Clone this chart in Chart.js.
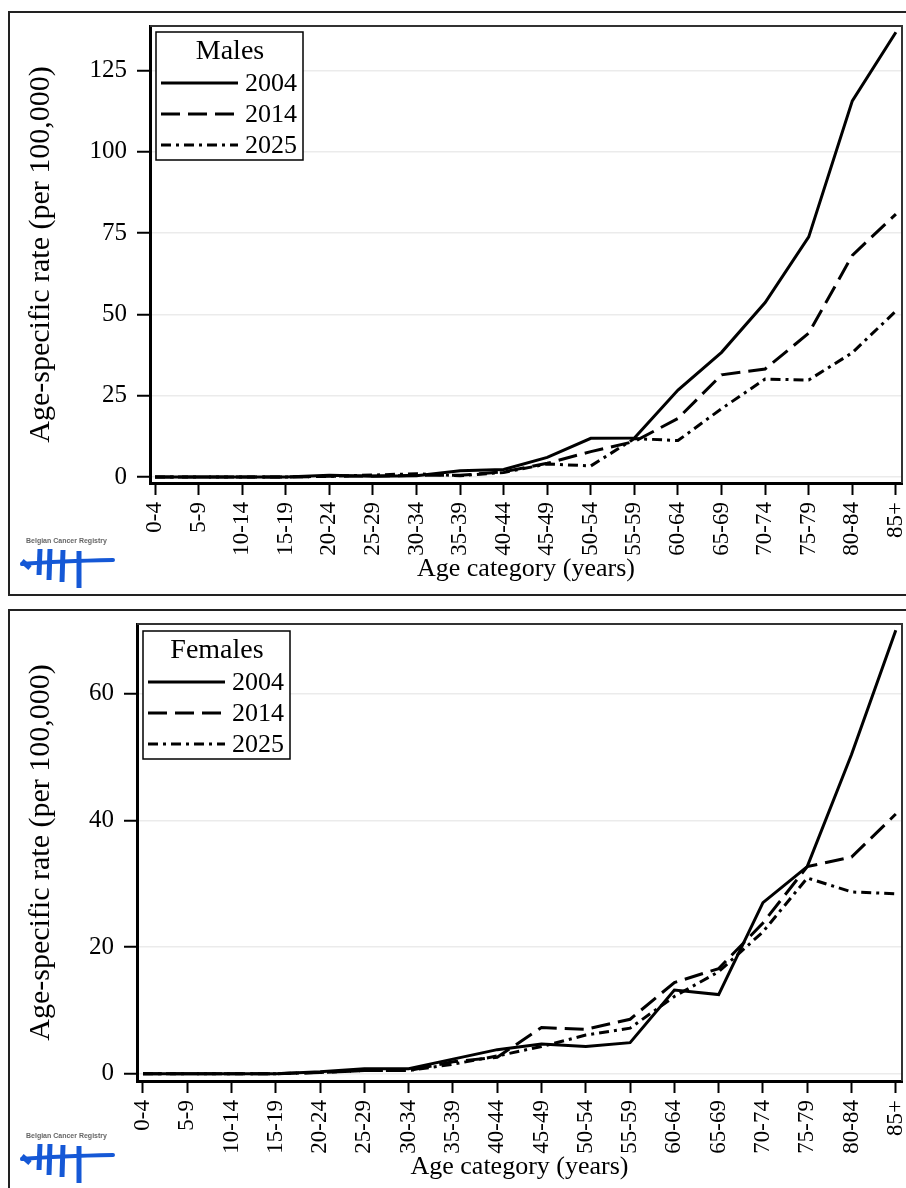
<!DOCTYPE html>
<html>
<head>
<meta charset="utf-8">
<script src="https://cdn.jsdelivr.net/npm/chart.js@4.4.0/dist/chart.umd.min.js"></script>
<style>
  html, body { margin: 0; padding: 0; background: #fff; }
  body { width: 906px; height: 1188px; position: relative; overflow: hidden; }
  .panel { position: absolute; left: 8px; width: 910px; border: 2px solid #222; box-sizing: border-box; }
  #p1 { top: 11px; height: 585px; }
  #p2 { top: 609px; height: 600px; }
  canvas { position: absolute; left: 0; }
  #c1 { top: 0; }
  #c2 { top: 600px; }
  .logo { position: absolute; left: 20px; }
</style>
</head>
<body>
<div class="panel" id="p1"></div>
<div class="panel" id="p2"></div>
<canvas id="c1" width="906" height="600"></canvas>
<canvas id="c2" width="906" height="588"></canvas>

<svg class="logo" style="top:535px" width="100" height="56">
  <text x="6" y="8" font-family="Liberation Sans" font-size="7" font-weight="bold" fill="#666">Belgian Cancer Registry</text>
  <path d="M2 29 Q40 26 93 25" stroke="#1558d6" stroke-width="4" fill="none" stroke-linecap="round"/>
  <path d="M2 26 L10 33" stroke="#1558d6" stroke-width="5"/>
  <path d="M20 14 L19 40" stroke="#1558d6" stroke-width="5"/>
  <path d="M30 14 L29 45" stroke="#1558d6" stroke-width="5"/>
  <path d="M43 15 L42 47" stroke="#1558d6" stroke-width="5"/>
  <path d="M59 16 L59 53" stroke="#1558d6" stroke-width="5"/>
</svg>
<svg class="logo" style="top:1130px" width="100" height="56">
  <text x="6" y="8" font-family="Liberation Sans" font-size="7" font-weight="bold" fill="#666">Belgian Cancer Registry</text>
  <path d="M2 29 Q40 26 93 25" stroke="#1558d6" stroke-width="4" fill="none" stroke-linecap="round"/>
  <path d="M2 26 L10 33" stroke="#1558d6" stroke-width="5"/>
  <path d="M20 14 L19 40" stroke="#1558d6" stroke-width="5"/>
  <path d="M30 14 L29 45" stroke="#1558d6" stroke-width="5"/>
  <path d="M43 15 L42 47" stroke="#1558d6" stroke-width="5"/>
  <path d="M59 16 L59 53" stroke="#1558d6" stroke-width="5"/>
</svg>

<script>
// data
const categories = ['0-4','5-9','10-14','15-19','20-24','25-29','30-34','35-39','40-44',
                    '45-49','50-54','55-59','60-64','65-69','70-74','75-79','80-84','85+'];
const years = ['2004', '2014', '2025'];

const males2004 = [0,0,0,0,0.5,0.2,0.4,1.9,2.3,6.0,11.9,12.0,26.7,38.3,53.6,73.8,115.6,136.7];
const males2014 = [0,0,0,0,0.2,0.3,0.5,0.5,1.6,4.2,7.8,10.9,18.0,31.4,33.2,44.2,68.1,80.8];
const males2025 = [0,0,0,0,0.2,0.6,1.0,0.4,1.4,4.0,3.4,11.8,11.2,21.0,30.1,29.8,38.2,51.0];

const females2004 = [0,0,0,0,0.3,0.8,0.8,2.3,3.8,4.7,4.3,4.9,13.2,12.5,27.0,32.7,50.4,70.0];
const females2014 = [0,0,0,0,0.2,0.5,0.5,1.9,2.6,7.3,7.0,8.6,14.4,16.6,23.8,32.7,34.2,41.0];
const females2025 = [0,0,0,0,0.2,0.5,0.5,1.5,2.8,4.3,6.1,7.2,12.2,16.1,22.4,30.9,28.7,28.4];

const maleTicks = [0, 25, 50, 75, 100, 125];
const femaleTicks = [0, 20, 40, 60];

const serif = '"Liberation Serif", "Times New Roman", serif';
const lineStyles = [[], [19, 8], [10, 5, 3, 5]];

// frame + legend box drawn inside the plot area
const framePlugin = {
    id: 'frame',
    afterDraw(chart, args, opts) {
        const {ctx, chartArea: a} = chart;
        ctx.save();
        ctx.strokeStyle = '#333';
        ctx.lineWidth = 2;
        ctx.beginPath();
        ctx.moveTo(a.left, a.top);
        ctx.lineTo(a.right, a.top);
        ctx.lineTo(a.right, a.bottom);
        ctx.stroke();

        // legend
        const bx = a.left + opts.dx, by = a.top + opts.dy;
        ctx.lineWidth = 1.5;
        ctx.strokeStyle = '#000';
        ctx.fillStyle = '#fff';
        ctx.fillRect(bx, by, 147, 128);
        ctx.strokeRect(bx, by, 147, 128);
        ctx.fillStyle = '#000';
        ctx.textBaseline = 'middle';
        ctx.textAlign = 'center';
        ctx.font = '28px ' + serif;
        ctx.fillText(opts.title, bx + 74, by + 20);
        ctx.textAlign = 'left';
        ctx.font = '26px ' + serif;
        chart.data.datasets.forEach((ds, i) => {
            const y = by + 51 + i * 31;
            ctx.lineWidth = 3;
            ctx.setLineDash(ds.borderDash);
            ctx.beginPath();
            ctx.moveTo(bx + 5, y);
            ctx.lineTo(bx + 82, y);
            ctx.stroke();
            ctx.setLineDash([]);
            ctx.fillText(ds.label, bx + 89, y + 1);
        });
        ctx.restore();
    }
};

function makeChart(id, series, yTicks, yMin, yMax, xPad, axisW, axisH, padTop, legend) {
    const ctx = document.getElementById(id).getContext('2d');
    return new Chart(ctx, {
        type: 'line',
        data: {
            datasets: series.map((s, i) => ({
                label: years[i],
                data: s.map((v, j) => ({x: j, y: v})),
                borderColor: '#000',
                borderWidth: 3,
                borderDash: lineStyles[i],
                pointRadius: 0,
                tension: 0,
                fill: false
            }))
        },
        options: {
            responsive: false,
            animation: false,
            events: [],
            layout: { padding: { top: padTop, right: 4, left: 0, bottom: 0 } },
            plugins: {
                legend: { display: false },
                tooltip: { enabled: false },
                frame: legend
            },
            scales: {
                x: {
                    type: 'linear',
                    min: -xPad[0],
                    max: categories.length - 1 + xPad[1],
                    afterBuildTicks: s => { s.ticks = categories.map((c, i) => ({value: i})); },
                    afterFit: s => { s.height = axisH.h; s.paddingLeft = 0; s.paddingRight = 0; },
                    grid: { display: true, drawOnChartArea: false, tickColor: '#000', tickLength: 12, tickWidth: 2 },
                    border: { color: '#000', width: 3 },
                    ticks: {
                        color: '#000',
                        font: { family: serif, size: 23 },
                        padding: 7,
                        minRotation: 90,
                        maxRotation: 90,
                        autoSkip: false,
                        callback: v => categories[v]
                    },
                    title: {
                        display: true,
                        text: 'Age category (years)',
                        color: '#000',
                        font: { family: serif, size: 26 },
                        padding: { top: 0, bottom: axisH.titlePad }
                    }
                },
                y: {
                    type: 'linear',
                    min: yMin,
                    max: yMax,
                    afterBuildTicks: s => { s.ticks = yTicks.map(v => ({value: v})); },
                    afterFit: s => { s.width = axisW; s.paddingTop = 0; s.paddingBottom = 0; },
                    grid: { color: '#ebebeb', lineWidth: 1.5, tickColor: '#000', tickLength: 13, tickWidth: 2 },
                    border: { color: '#000', width: 3 },
                    ticks: { color: '#000', font: { family: serif, size: 25 }, padding: 10 },
                    title: {
                        display: true,
                        text: 'Age-specific rate (per 100,000)',
                        color: '#000',
                        font: { family: serif, size: 30 },
                        padding: { top: 23, bottom: 0 }
                    }
                }
            }
        },
        plugins: [framePlugin]
    });
}

makeChart('c1', [males2004, males2014, males2025], maleTicks, -1.85, 138.6,
          [0.115, 0.14], 150, { h: 117, titlePad: 15 }, 26,
          { title: 'Males', dx: 6, dy: 6 });

makeChart('c2', [females2004, females2014, females2025], femaleTicks, -1.15, 71.0,
          [0.135, 0.14], 137, { h: 107, titlePad: 5 }, 24,
          { title: 'Females', dx: 6, dy: 7 });
</script>
</body>
</html>
